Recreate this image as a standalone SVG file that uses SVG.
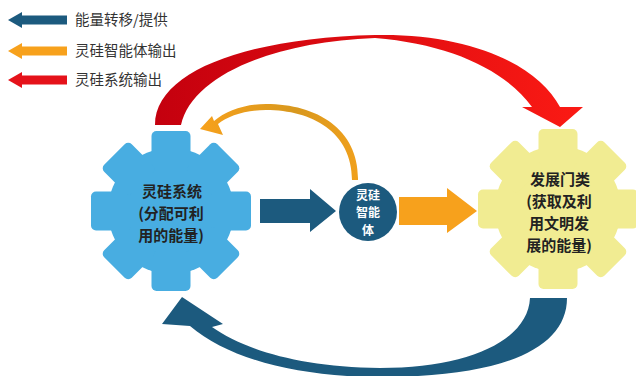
<svg xmlns="http://www.w3.org/2000/svg" xmlns:xlink="http://www.w3.org/1999/xlink" width="636" height="376" viewBox="0 0 636 376">
<style>
.leg{font-family:"Noto Sans CJK SC","Noto Sans",sans-serif;font-size:14.5px;fill:#333}
.gt{font-family:"Noto Sans CJK SC","Noto Sans",sans-serif;font-size:15px;font-weight:bold;fill:#222;text-anchor:middle}
.ct{font-family:"Noto Sans CJK SC","Noto Sans",sans-serif;font-size:12px;font-weight:bold;fill:#fff;text-anchor:middle}
.blue{fill:#1c5a7e}
.orange{fill:#f7a11c}
.red{fill:#e5121a}
</style>
<defs>
<linearGradient id="redGrad" x1="0" y1="0" x2="1" y2="0">
<stop offset="0" stop-color="#c4000e"/>
<stop offset="1" stop-color="#fb1a14"/>
</linearGradient>
<linearGradient id="orGrad" x1="0" y1="0" x2="1" y2="0">
<stop offset="0" stop-color="#f7a11c"/>
<stop offset="0.6" stop-color="#d8981e"/>
<stop offset="1" stop-color="#f0a01c"/>
</linearGradient>
<g id="gearShape">
<circle r="63"/>
<rect x="-19.5" y="-80" width="39" height="40" rx="5"/>
<rect x="-19.5" y="-80" width="39" height="40" rx="5" transform="rotate(45)"/>
<rect x="-19.5" y="-80" width="39" height="40" rx="5" transform="rotate(90)"/>
<rect x="-19.5" y="-80" width="39" height="40" rx="5" transform="rotate(135)"/>
<rect x="-19.5" y="-80" width="39" height="40" rx="5" transform="rotate(180)"/>
<rect x="-19.5" y="-80" width="39" height="40" rx="5" transform="rotate(225)"/>
<rect x="-19.5" y="-80" width="39" height="40" rx="5" transform="rotate(270)"/>
<rect x="-19.5" y="-80" width="39" height="40" rx="5" transform="rotate(315)"/>
</g>
</defs>
<rect width="636" height="376" fill="#fff"/>

<g id="legend">
<path class="blue" d="M8,20 L22,12 L22,15.5 L67,15.5 L67,24.5 L22,24.5 L22,28 Z"/>
<text class="leg" x="75" y="25">能量转移/提供</text>
<path class="orange" d="M8,51 L22,43 L22,46.5 L67,46.5 L67,55.5 L22,55.5 L22,59 Z"/>
<text class="leg" x="75" y="56">灵硅智能体输出</text>
<path class="red" d="M8,80 L22,72 L22,75.5 L67,75.5 L67,84.5 L22,84.5 L22,88 Z"/>
<text class="leg" x="75" y="85">灵硅系统输出</text>
</g>

<g id="connectors">
<path fill="url(#redGrad)" d="M155,125 C155,72 245,38 375,35 C470,33 538,65 560,107 L583,107 L560,127 L522,107 L532,107 C505,70 450,44 375,38 C272,42 192,76 181,125 Z"/>
<path fill="url(#orGrad)" d="M352,180 C352,132 312,110 266,110 C245,110 228,116 218,124 L223,135 L200,129 L212,116 L214,121 C226,111 244,104 266,104 C318,104 359,130 358,180 Z"/>
<path class="blue" d="M567,298 C567,350 500,377 380,377 C300,377 230,360 190,326 L162,324 L182,297 L223,324 L212,327 C245,350 300,367 380,368 C470,368 528,340 530,298 Z"/>
<path class="blue" d="M260,199 L310,199 L310,189 L336,211 L310,232 L310,223 L260,223 Z"/>
<path class="orange" d="M399,197 L447,197 L447,188 L477,211 L447,233 L447,225 L399,225 Z"/>
</g>

<g id="node-silicon-system">
<use xlink:href="#gearShape" href="#gearShape" transform="translate(171,211)" fill="#48ade1"/>
<text class="gt"><tspan x="172" y="196.5">灵硅系统</tspan><tspan x="171" y="218.5">(分配可利</tspan><tspan x="171" y="240.5">用的能量)</tspan></text>
</g>

<g id="node-agent">
<circle cx="368" cy="212" r="29" fill="#1c5a7e"/>
<text class="ct"><tspan x="368" y="199.5">灵硅</tspan><tspan x="368" y="217">智能</tspan><tspan x="368" y="234.5">体</tspan></text>
</g>

<g id="node-civilization">
<use xlink:href="#gearShape" href="#gearShape" transform="translate(558,209)" fill="#f1ec92"/>
<text class="gt"><tspan x="560" y="184.5">发展门类</tspan><tspan x="559" y="206.5">(获取及利</tspan><tspan x="559" y="228.5">用文明发</tspan><tspan x="559" y="250.5">展的能量)</tspan></text>
</g>
</svg>
